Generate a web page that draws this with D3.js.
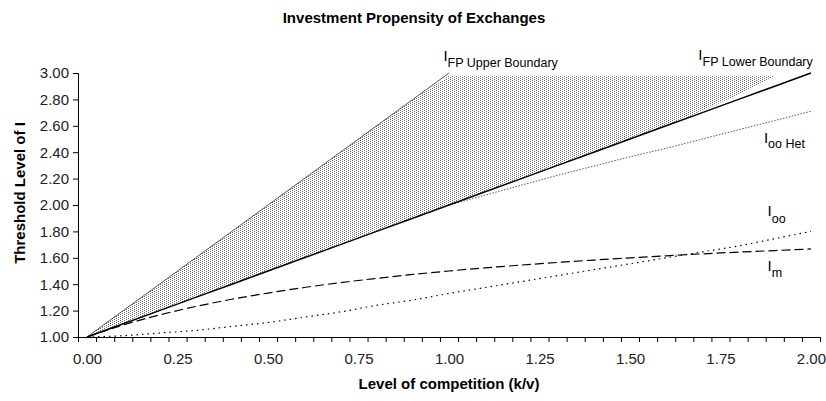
<!DOCTYPE html>
<html>
<head>
<meta charset="utf-8">
<script src="https://cdn.jsdelivr.net/npm/d3@7"></script>
<style>
  html, body { margin: 0; padding: 0; background: #fff; }
  svg { display: block; font-family: "Liberation Sans", Arial, sans-serif; }
</style>
</head>
<body>
<svg id="chart" width="826" height="401"></svg>
<script>
// Level of competition (k/v)
const competition = [0.0, 0.1, 0.2, 0.3, 0.4, 0.5, 0.6, 0.7, 0.8, 0.9, 1.0,
                     1.1, 1.2, 1.3, 1.4, 1.5, 1.6, 1.7, 1.8, 1.9, 2.0];

// Threshold levels of I for each curve
const fpLower = [1.00, 1.10, 1.20, 1.30, 1.40, 1.50, 1.60, 1.70, 1.80, 1.90, 2.00,
                 2.10, 2.20, 2.30, 2.40, 2.50, 2.60, 2.70, 2.80, 2.90, 3.00];
const fpUpper = [1.00, 1.20, 1.40, 1.60, 1.80, 2.00, 2.20, 2.40, 2.60, 2.80, 3.00,
                 null, null, null, null, null, null, null, null, null, null];
const ooHet = [null, null, null, null, null, null, null, null, null, null, 2.00,
               2.075, 2.15, 2.225, 2.295, 2.365, 2.43, 2.50, 2.57, 2.64, 2.71];
const iOO = [1.00, 1.01, 1.03, 1.05, 1.08, 1.11, 1.15, 1.19, 1.24, 1.28, 1.33,
             1.375, 1.42, 1.465, 1.51, 1.555, 1.60, 1.645, 1.69, 1.745, 1.80];
const iM = [1.000, 1.091, 1.167, 1.231, 1.286, 1.333, 1.375, 1.412, 1.444, 1.474, 1.500,
            1.524, 1.545, 1.565, 1.583, 1.600, 1.615, 1.630, 1.643, 1.655, 1.667];

// Shaded region between the FP boundaries
const shadeTop = [1.00, 1.20, 1.40, 1.60, 1.80, 2.00, 2.20, 2.40, 2.60, 2.80, 2.98,
                  2.98, 2.98, 2.98, 2.98, 2.98, 2.98, 2.98, 2.98, 2.98, null];
const shadeBottom = [1.00, 1.10, 1.20, 1.30, 1.40, 1.50, 1.60, 1.70, 1.80, 1.90, 2.00,
                     2.10, 2.20, 2.30, 2.40, 2.50, 2.60, 2.71, 2.84, 2.98, null];

const xTickLabels = [0.00, 0.25, 0.50, 0.75, 1.00, 1.25, 1.50, 1.75, 2.00];
const yTickLabels = [1.00, 1.20, 1.40, 1.60, 1.80, 2.00, 2.20, 2.40, 2.60, 2.80, 3.00];
const categoryStep = 0.05;

const svg = d3.select("#chart");
const plotLeft = 78, plotRight = 820, plotTop = 73, plotBottom = 337;

const x = d3.scaleLinear().domain([-categoryStep / 2, 2 + categoryStep / 2]).range([plotLeft, plotRight]);
const y = d3.scaleLinear().domain([1, 3]).range([plotBottom, plotTop]);

// dotted fill pattern
const defs = svg.append("defs");
const pat = defs.append("pattern")
  .attr("id", "dots").attr("patternUnits", "userSpaceOnUse")
  .attr("width", 4).attr("height", 2);
pat.append("rect").attr("width", 4).attr("height", 2).attr("fill", "#fff");
pat.append("rect").attr("x", 0).attr("y", 0).attr("width", 1).attr("height", 1).attr("fill", "#6a6a6a");
pat.append("rect").attr("x", 2).attr("y", 1).attr("width", 1).attr("height", 1).attr("fill", "#6a6a6a");

const pts = competition.map((c, i) => ({ c, i }));

const area = d3.area()
  .defined(d => shadeTop[d.i] != null)
  .x(d => x(d.c))
  .y0(d => y(shadeBottom[d.i]))
  .y1(d => y(shadeTop[d.i]));

svg.append("path").datum(pts).attr("d", area).attr("fill", "url(#dots)");

function drawLine(values, stroke, width, dash, curve) {
  const line = d3.line()
    .defined(d => values[d.i] != null)
    .x(d => x(d.c))
    .y(d => y(values[d.i]))
    .curve(curve || d3.curveMonotoneX);
  svg.append("path").datum(pts).attr("d", line)
    .attr("fill", "none").attr("stroke", stroke).attr("stroke-width", width)
    .attr("stroke-dasharray", dash);
}

drawLine(fpUpper, "#444", 0.9, null, d3.curveLinear);
drawLine(ooHet, "#555", 1, "1.5,1.5");
drawLine(iOO, "#000", 1.2, "1.5,4");
drawLine(iM, "#000", 1.2, "9,4");
drawLine(fpLower, "#000", 1.5, null, d3.curveLinear);

// Axes
const fmt = d3.format(".2f");
const yAxis = d3.axisLeft(y).tickValues(yTickLabels).tickFormat(fmt).tickSize(5).tickPadding(4);
const gy = svg.append("g").attr("transform", `translate(${plotLeft},0)`).call(yAxis);

const boundaries = d3.range(0, 42).map(k => -categoryStep / 2 + k * categoryStep);
const xTicks = d3.axisBottom(x).tickValues(boundaries).tickFormat("").tickSize(5).tickSizeOuter(0);
const gx = svg.append("g").attr("transform", `translate(0,${plotBottom})`).call(xTicks);
const xLabels = d3.axisBottom(x).tickValues(xTickLabels).tickFormat(fmt).tickSize(0).tickPadding(16);
const gxl = svg.append("g").attr("transform", `translate(0,${plotBottom})`).call(xLabels);
gxl.select(".domain").remove();

[gy, gx, gxl].forEach(g => {
  g.selectAll("path.domain").attr("stroke", "#000");
  g.selectAll(".tick line").attr("stroke", "#000");
  g.selectAll("text").attr("font-family", "Liberation Sans, Arial, sans-serif")
    .attr("font-size", 15).attr("fill", "#222");
});

// Titles
svg.append("text").attr("x", 414).attr("y", 23).attr("text-anchor", "middle")
  .attr("font-size", 15).attr("font-weight", "bold").text("Investment Propensity of Exchanges");
svg.append("text").attr("x", 449).attr("y", 389).attr("text-anchor", "middle")
  .attr("font-size", 15).attr("font-weight", "bold").text("Level of competition (k/v)");
svg.append("text").attr("transform", "translate(25,193) rotate(-90)").attr("text-anchor", "middle")
  .attr("font-size", 15).attr("font-weight", "bold").text("Threshold Level of I");

// Curve labels: I with subscript
function curveLabel(px, py, sub, dy) {
  const t = svg.append("text").attr("x", px).attr("y", py).attr("font-size", 15).attr("fill", "#000");
  t.append("tspan").text("I");
  t.append("tspan").attr("dy", dy).attr("font-size", 12.5).text(sub);
}
curveLabel(x(0.99) - 2, y(3) - 12, "FP Upper Boundary", 6);
curveLabel(x(1.70) - 4, y(3) - 13, "FP Lower Boundary", 6);
curveLabel(x(1.87), y(2.47), "oo Het", 5);
curveLabel(x(1.88), y(1.92), "oo", 7);
curveLabel(x(1.88), y(1.50), "m", 6);
</script>
</body>
</html>
